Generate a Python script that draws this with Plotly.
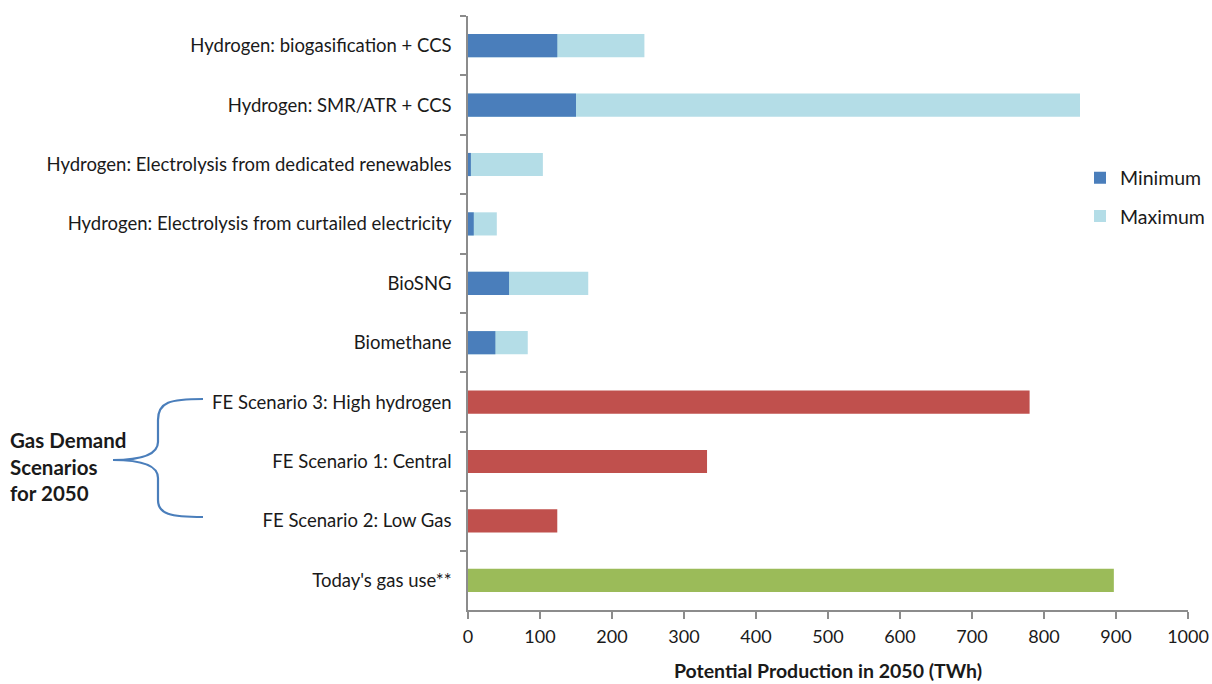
import plotly.graph_objects as go

# ---- data ----
range_categories = [
    "Hydrogen: biogasification + CCS",
    "Hydrogen: SMR/ATR + CCS",
    "Hydrogen: Electrolysis from dedicated renewables",
    "Hydrogen: Electrolysis from curtailed electricity",
    "BioSNG",
    "Biomethane",
]
minimum_values = [124, 150, 4, 8, 57, 38]
maximum_values = [245, 850, 104, 40, 167, 83]

scenario_categories = [
    "FE Scenario 3: High hydrogen",
    "FE Scenario 1: Central",
    "FE Scenario 2: Low Gas",
]
scenario_values = [780, 332, 124]

today_category = ["Today's gas use**"]
today_values = [897]

all_categories = range_categories + scenario_categories + today_category
x_ticks = list(range(0, 1001, 100))

# ---- layout geometry (pixels) ----
W, H = 1212, 684
L, R, T, B = 468, 24, 16, 74
PW, PH = W - L - R, H - T - B

def px(x):
    return (x - L) / PW

def py(y):
    return (H - B - y) / PH

FONT = "Lato"
TXT = "#1a1a1a"

fig = go.Figure()
fig.add_trace(go.Bar(
    y=range_categories, x=maximum_values, orientation="h",
    name="Maximum", marker=dict(color="#b4dde7", line=dict(width=0)),
    legendgroup="max", legendrank=2,
))
fig.add_trace(go.Bar(
    y=range_categories, x=minimum_values, orientation="h",
    name="Minimum", marker=dict(color="#4a7ebb", line=dict(width=0)),
    legendgroup="min", legendrank=1,
))
fig.add_trace(go.Bar(
    y=scenario_categories, x=scenario_values, orientation="h",
    name="Scenarios", marker=dict(color="#c0504d", line=dict(width=0)),
    showlegend=False,
))
fig.add_trace(go.Bar(
    y=today_category, x=today_values, orientation="h",
    name="Today", marker=dict(color="#9bbb59", line=dict(width=0)),
    showlegend=False,
))

# curly brace
pts = [(203, 399), (170, 399), (158, 402), (158, 420), (158, 442),
       (158, 455), (140, 460), (113, 460), (140, 460), (158, 465), (158, 478),
       (158, 500), (158, 514), (170, 517), (203, 517)]
P = [f"{px(x):.5f},{py(y):.5f}" for x, y in pts]
path = (f"M {P[0]} C {P[1]} {P[2]} {P[3]} L {P[4]} C {P[5]} {P[6]} {P[7]} "
        f"C {P[8]} {P[9]} {P[10]} L {P[11]} C {P[12]} {P[13]} {P[14]}")
fig.add_shape(type="path", path=path, xref="paper", yref="paper",
              line=dict(color="#4a7ebb", width=2.2))

fig.add_annotation(
    text="<b>Gas Demand<br>Scenarios<br>for 2050</b>",
    xref="paper", yref="paper", x=px(8), y=py(466),
    xanchor="left", yanchor="middle", align="left", showarrow=False,
    font=dict(family=FONT, size=20.5, color=TXT),
)

fig.update_layout(
    width=W, height=H,
    margin=dict(l=L, r=R, t=T, b=B, pad=0, autoexpand=False),
    barmode="overlay", bargap=0.61,
    plot_bgcolor="white", paper_bgcolor="white",
    font=dict(family=FONT, size=18, color=TXT),
    showlegend=True,
    legend=dict(
        x=px(1080), y=py(197), xanchor="left", yanchor="middle",
        bgcolor="rgba(0,0,0,0)", tracegroupgap=10,
        font=dict(family=FONT, size=19.5, color=TXT),
    ),
    xaxis=dict(
        automargin=False,
        range=[0, 1000], tickvals=x_ticks, ticktext=[str(v) for v in x_ticks],
        showgrid=False, zeroline=False,
        showline=True, linecolor="#8c8c8c", linewidth=1.5,
        ticks="outside", ticklen=7, tickcolor="#8c8c8c", tickwidth=1.5,
        tickfont=dict(family=FONT, size=18, color=TXT),
        ticklabelstandoff=3,
        title=dict(text="<b>Potential Production in 2050 (TWh)</b>",
                   font=dict(family=FONT, size=19.5, color=TXT), standoff=18),
    ),
    yaxis=dict(
        automargin=False,
        categoryorder="array", categoryarray=all_categories,
        autorange="reversed",
        showgrid=False, zeroline=False,
        showline=True, linecolor="#8c8c8c", linewidth=1.5,
        ticks="outside", tickson="boundaries", ticklen=6,
        tickcolor="#8c8c8c", tickwidth=1.5,
        tickfont=dict(family=FONT, size=18.5, color=TXT),
        ticklabelstandoff=11,
    ),
)

fig.write_html("out.html")
